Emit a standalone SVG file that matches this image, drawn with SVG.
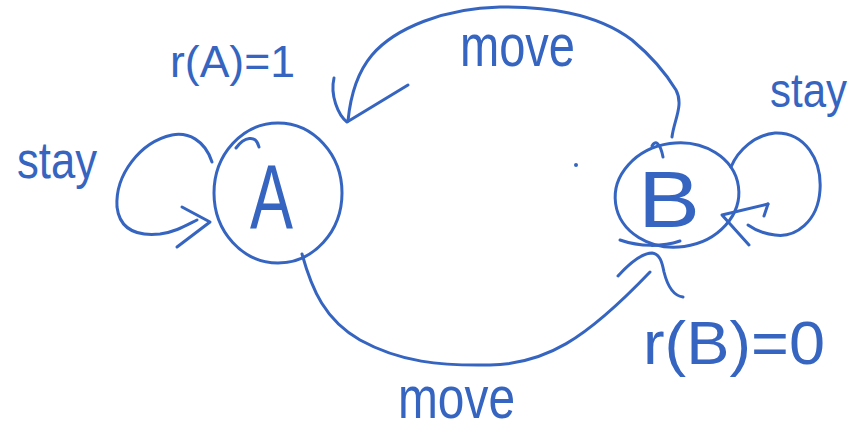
<svg xmlns="http://www.w3.org/2000/svg" width="859" height="430" viewBox="0 0 859 430">
<style>
.s{fill:none;stroke:#3565c0;stroke-width:3;stroke-linecap:round;stroke-linejoin:round}
.t{font-family:"Liberation Sans","DejaVu Sans",sans-serif;fill:#3565c0}
</style>
<rect width="859" height="430" fill="#ffffff"/>
<g id="nodeA">
<ellipse class="s" cx="278" cy="193" rx="64" ry="70"/>
<path class="s" d="M236,148 C244,137 256,134 259,147"/>
<text class="t" x="250" y="228" font-size="90" textLength="43" lengthAdjust="spacingAndGlyphs">A</text>
</g>
<g id="nodeB">
<ellipse class="s" cx="677" cy="195" rx="62" ry="52" transform="rotate(-8 677 195)"/>
<path class="s" d="M652,146 C655,140 660,142 663,157"/>
<path class="s" d="M620,240 C640,247 662,247 680,241"/>
<text class="t" x="638" y="227" font-size="80" textLength="62" lengthAdjust="spacingAndGlyphs">B</text>
</g>
<g id="connectors">
<path class="s" d="M212,162 C205,140 188,132 172,135 C140,142 115,175 117,207 C120,232 140,236 160,234 C175,232 185,226 197,220"/>
<path class="s" d="M182,207 L210,222 L177,247"/>
<path class="s" d="M731,167 C738,150 755,135 775,133 C805,132 822,160 820,190 C818,222 795,238 775,235 C765,234 755,230 748,225"/>
<path class="s" d="M768,204 L722,215 L749,245"/>
<path class="s" d="M768,204 L764,216"/>
<path class="s" d="M672,137 C674,120 684,105 676,90 C665,72 650,55 632,40 C595,12 545,7 500,7 C445,8 395,28 372,55 C356,74 350,100 348,121"/>
<path class="s" d="M334,78 C330,95 338,115 347,122 L408,85"/>
<path class="s" d="M302,254 C312,290 325,320 360,340 C400,362 440,366 490,365 C545,364 585,340 650,272"/>
<path class="s" d="M618,276 C628,265 642,253 652,253 C660,254 662,262 664,272 C668,288 675,296 683,297"/>
<circle cx="576" cy="165" r="2" fill="#3565c0"/>
</g>
<g id="labels">
<text class="t" x="170" y="77" font-size="44" textLength="125" lengthAdjust="spacingAndGlyphs">r(A)=1</text>
<text class="t" x="17" y="178" font-size="52" textLength="80" lengthAdjust="spacingAndGlyphs">stay</text>
<text class="t" x="770" y="107" font-size="48" textLength="77" lengthAdjust="spacingAndGlyphs">stay</text>
<text class="t" x="460" y="66" font-size="60" textLength="115" lengthAdjust="spacingAndGlyphs">move</text>
<text class="t" x="398" y="418" font-size="60" textLength="117" lengthAdjust="spacingAndGlyphs">move</text>
<text class="t" x="643" y="364" font-size="62" textLength="182" lengthAdjust="spacingAndGlyphs">r(B)=0</text>
</g>
</svg>
